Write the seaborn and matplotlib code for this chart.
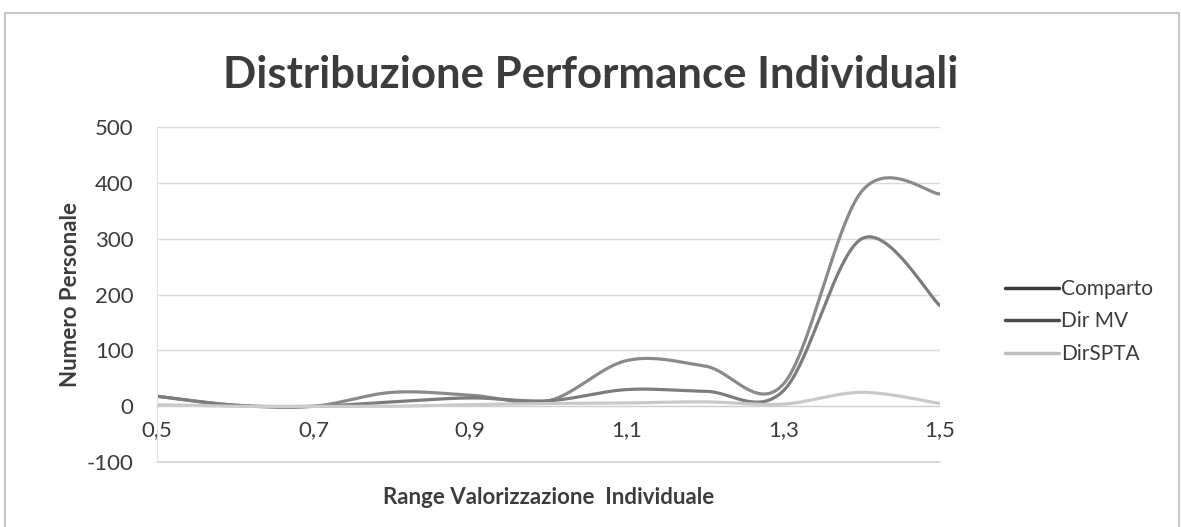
import matplotlib
matplotlib.use("Agg")
import matplotlib.pyplot as plt
from matplotlib.lines import Line2D
from matplotlib.patches import Rectangle
import numpy as np
import pandas as pd
import seaborn as sns

# values (x step 0.1)
ranges = [0.5, 0.6, 0.7, 0.8, 0.9, 1.0, 1.1, 1.2, 1.3, 1.4, 1.5]
comparto = [18, 2, 0, 25, 20, 10, 82, 72, 40, 385, 380]
dir_mv = [18, 2, 0, 8, 15, 10, 30, 27, 28, 300, 180]
dir_spta = [3, 0, 0, 0, 3, 5, 6, 8, 4, 25, 5]

series_names = ["Comparto", "Dir MV", "DirSPTA"]
line_colors = ["#8a8a8a", "#7c7c7c", "#c9c9c9"]
legend_colors = ["#3a3a3a", "#4a4a4a", "#bdbdbd"]

x_ticks = [0.5, 0.7, 0.9, 1.1, 1.3, 1.5]
x_tick_labels = ["0,5", "0,7", "0,9", "1,1", "1,3", "1,5"]
y_ticks = [-100, 0, 100, 200, 300, 400, 500]
y_tick_labels = ["-100", "0", "100", "200", "300", "400", "500"]

text_color = "#3c3c3c"
grid_color = "#d9d9d9"


def smooth_line(xs, ys, steps=40):
    # Excel "smoothed line": bezier segments with control points at 1/6 of neighbour span
    pts = np.column_stack([xs, ys]).astype(float)
    padded = np.vstack([pts[0], pts, pts[-1]])
    out = []
    t = np.linspace(0, 1, steps)[:, None]
    for i in range(len(pts) - 1):
        p0, p1 = padded[i + 1], padded[i + 2]
        c1 = p0 + (padded[i + 2] - padded[i]) / 6
        c2 = p1 - (padded[i + 3] - padded[i + 1]) / 6
        seg = ((1 - t) ** 3) * p0 + 3 * ((1 - t) ** 2) * t * c1 + 3 * (1 - t) * t ** 2 * c2 + t ** 3 * p1
        out.append(seg if i == 0 else seg[1:])
    out = np.vstack(out)
    return out[:, 0], out[:, 1]


frames = []
for name, vals in zip(series_names, [comparto, dir_mv, dir_spta]):
    sx, sy = smooth_line(ranges, vals)
    frames.append(pd.DataFrame({"x": sx, "y": sy, "series": name, "step": np.arange(len(sx))}))
df = pd.concat(frames, ignore_index=True)

sns.set_style("white")
plt.rcParams["font.family"] = ["Lato", "DejaVu Sans"]

fig = plt.figure(figsize=(11.81, 5.27), dpi=100)
ax = fig.add_axes([0.133, 0.123, 0.663, 0.636])

sns.lineplot(data=df, x="x", y="y", hue="series", hue_order=series_names,
             palette=dict(zip(series_names, line_colors)), estimator=None, sort=False,
             linewidth=2.3, legend=False, ax=ax)

ax.set_xlim(0.5, 1.5)
ax.set_ylim(-100, 500)
ax.set_yticks(y_ticks)
ax.set_yticklabels(y_tick_labels)
ax.set_xticks(x_ticks)
ax.set_xticklabels(x_tick_labels)
ax.yaxis.grid(True, color=grid_color, linewidth=1)
ax.axhline(-100, color=grid_color, linewidth=1.5, clip_on=False, zorder=0)
ax.set_axisbelow(True)

for side in ["top", "right"]:
    ax.spines[side].set_visible(False)
ax.spines["left"].set_color("#e2e2e2")
ax.spines["bottom"].set_position(("data", 0))
ax.spines["bottom"].set_color("#cfcfcf")
ax.tick_params(axis="both", length=0, labelsize=16, colors=text_color)
ax.tick_params(axis="x", pad=10)
ax.tick_params(axis="y", pad=17)

ax.set_xlabel("")
ax.set_ylabel("Numero Personale", fontsize=16, fontweight="bold", color=text_color, labelpad=4)
ax.text(0.5, -0.105, "Range Valorizzazione  Individuale", transform=ax.transAxes,
        ha="center", va="center", fontsize=16, fontweight="bold", color=text_color)

fig.text(0.5, 0.858, "Distribuzione Performance Individuali", ha="center", va="center",
         fontsize=31.5, fontweight="bold", color=text_color)

handles = [Line2D([0], [0], color=c, linewidth=2.5) for c in legend_colors]
fig.legend(handles, series_names, loc="center left", bbox_to_anchor=(0.835, 0.39),
           frameon=False, fontsize=15, handlelength=2.6, handletextpad=0.1,
           labelspacing=0.6, labelcolor=text_color)

fig.patches.append(Rectangle((0.004, -0.01), 0.994, 0.985, transform=fig.transFigure,
                             fill=False, edgecolor="#c8c8c8", linewidth=1.5))

fig.savefig("out.png", dpi=100, facecolor="white")
